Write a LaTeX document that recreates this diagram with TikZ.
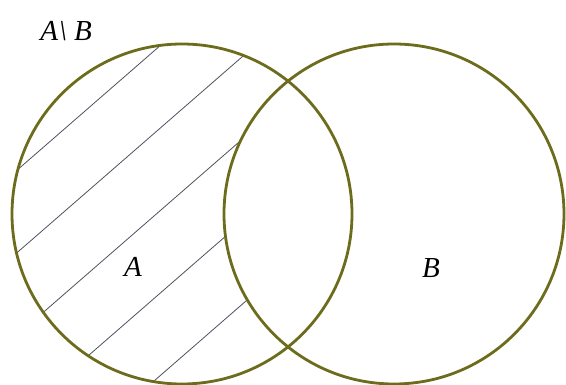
\documentclass[tikz,border=0pt]{standalone}
\usepackage{fontspec}
\setmainfont{Liberation Serif}
\usepackage{tikz}
\begin{document}
\begin{tikzpicture}[x=1pt,y=-1pt,
  setline/.style={draw=olivec,line width=2.8pt},
  hatch/.style={draw=hatchc,line width=0.8pt},
  lbl/.style={inner sep=0pt,font=\fontsize{29}{33}\selectfont\itshape}]
\definecolor{olivec}{RGB}{108,108,28}
\definecolor{hatchc}{RGB}{80,80,95}
\useasboundingbox (0,0) rectangle (566,385);
\coordinate (ca) at (182,214);
\coordinate (cb) at (394,214);
\begin{scope}
  \clip (ca) circle [radius=170];
  \foreach \c in {185,267.5,350,432.5,515}{
    \draw[hatch] (-50,{\c+0.87*50}) -- (650,{\c-0.87*650});
  }
\end{scope}
\fill[white] (cb) circle [radius=170];
\draw[setline] (ca) circle [radius=170];
\draw[setline] (cb) circle [radius=170];
\node[lbl] (la) at (133,267) {A};
\node[lbl] (lb) at (431,268) {B};
\node[lbl] (lab) at (66,31) {A\kern1pt\textbackslash\kern7pt B};
\end{tikzpicture}
\end{document}
